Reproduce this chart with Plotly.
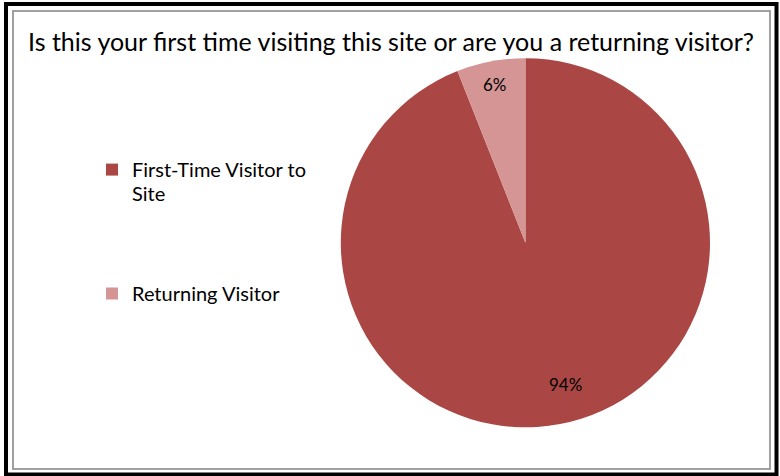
import math
import plotly.graph_objects as go

labels = ["First-Time Visitor to<br>Site", "Returning Visitor"]
values = [94, 6]
colors = ["#AA4744", "#D49594"]
title_text = "Is this your first time visiting this site or are you a returning visitor?"

W, H = 780, 476
FONT = "Lato, 'Open Sans', sans-serif"

# pie placement (pixels)
PIE_L, PIE_R, PIE_T, PIE_B = 340.8, 710.0, 58.0, 427.5
label_radius = [0.80, 0.87]      # fraction of radius where each percent label sits
label_angle_shift = [-5.0, 0.0]  # degrees nudged from slice mid-angle
legend_pad_lines = [3, 0]        # blank lines below each legend entry


def px(x):
    return x / W


def py(y):
    return 1 - y / H


legend_labels = [
    "<span style='font-size:20px'>" + lab.replace("<br>", "</span><br><span style='font-size:20px'>") + "</span>"
    + "<br> " * n
    for lab, n in zip(labels, legend_pad_lines)
]

fig = go.Figure(
    go.Pie(
        labels=legend_labels,
        values=values,
        marker=dict(colors=colors, line=dict(width=0)),
        sort=False,
        direction="clockwise",
        rotation=0,
        textinfo="none",
        domain=dict(x=[px(PIE_L), px(PIE_R)], y=[py(PIE_B), py(PIE_T)]),
        customdata=labels,
        hovertemplate="%{customdata}: %{percent:.0%}<extra></extra>",
    )
)

# percent labels placed around each slice's mid-angle
cx = (PIE_L + PIE_R) / 2
cy = (PIE_T + PIE_B) / 2
R = min(PIE_R - PIE_L, PIE_B - PIE_T) / 2
total = sum(values)
cum = 0.0
annotations = []
for v, rf, da in zip(values, label_radius, label_angle_shift):
    mid = (cum + v / 2) / total * 2 * math.pi + math.radians(da)
    cum += v
    x = cx + rf * R * math.sin(mid)
    y = cy - rf * R * math.cos(mid)
    annotations.append(dict(
        x=px(x), y=py(y), xref="paper", yref="paper",
        text=f"{round(v / total * 100)}%", showarrow=False,
        xanchor="center", yanchor="middle",
        font=dict(family=FONT, size=17, color="#000000"),
    ))

fig.update_layout(
    width=W,
    height=H,
    margin=dict(l=0, r=0, t=0, b=0),
    paper_bgcolor="white",
    plot_bgcolor="white",
    font=dict(family=FONT, color="#000000"),
    title=dict(
        text=title_text,
        x=px(391),
        xanchor="center",
        y=py(42),
        yanchor="middle",
        font=dict(family=FONT, size=25, color="#000000"),
    ),
    legend=dict(
        x=px(92),
        xanchor="left",
        y=py(151),
        yanchor="top",
        valign="top",
        font=dict(family=FONT, size=18.6, color="#000000"),
        bgcolor="rgba(0,0,0,0)",
    ),
    showlegend=True,
    annotations=annotations,
    shapes=[
        dict(type="rect", xref="paper", yref="paper",
             x0=px(6), x1=px(776.5), y0=py(474.5), y1=py(4),
             line=dict(color="#000000", width=4), fillcolor="rgba(0,0,0,0)", layer="above"),
        dict(type="rect", xref="paper", yref="paper",
             x0=px(13), x1=px(770), y0=py(469), y1=py(11),
             line=dict(color="#A0A0A0", width=2), fillcolor="rgba(0,0,0,0)", layer="above"),
    ],
)

fig.write_html("out.html")
